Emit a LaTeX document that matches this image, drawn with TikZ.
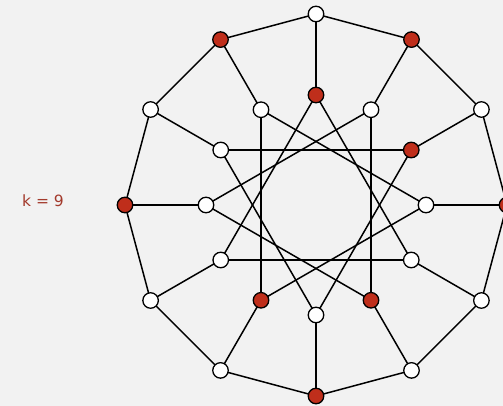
\documentclass[tikz,border=0pt]{standalone}
\usepackage{fontspec}
\setmainfont{DejaVu Sans}
\definecolor{bg}{HTML}{F2F2F2}
\definecolor{redv}{HTML}{BF2E1B}
\definecolor{lab}{HTML}{A33A2C}
\begin{document}
\begin{tikzpicture}[x=1pt,y=-1pt,
  vert/.style={circle,draw=black,line width=1.3pt,fill=white,minimum size=15.5pt,inner sep=0pt},
  redvert/.style={vert,fill=redv},
  edge/.style={line width=1.5pt,black}]
\fill[bg] (0,0) rectangle (503,406);
\useasboundingbox (0,0) rectangle (503,406);
\node[text=lab,font=\fontsize{15.5}{18}\selectfont] (klabel) at (43,201) {k = 9};
% vertex positions: index j at angle 90-30j
\foreach \j in {0,...,11}{
  \pgfmathsetmacro{\ang}{90-30*\j}
  \coordinate (po\j) at ({316+191*cos(\ang)},{205-191*sin(\ang)});
  \coordinate (pi\j) at ({316+110*cos(\ang)},{205-110*sin(\ang)});
}
% edges
\foreach \j in {0,...,11}{
  \pgfmathtruncatemacro{\nx}{mod(\j+1,12)}
  \pgfmathtruncatemacro{\st}{mod(\j+4,12)}
  \draw[edge] (po\j) -- (po\nx);
  \draw[edge] (po\j) -- (pi\j);
  \draw[edge] (pi\j) -- (pi\st);
}
% vertices
\foreach \j/\so/\si in {0/vert/redvert,1/redvert/vert,2/vert/redvert,3/redvert/vert,4/vert/vert,5/vert/redvert,6/redvert/vert,7/vert/redvert,8/vert/vert,9/redvert/vert,10/vert/vert,11/redvert/vert}{
  \node[\so] (o\j) at (po\j) {};
  \node[\si] (i\j) at (pi\j) {};
}
\end{tikzpicture}
\end{document}
